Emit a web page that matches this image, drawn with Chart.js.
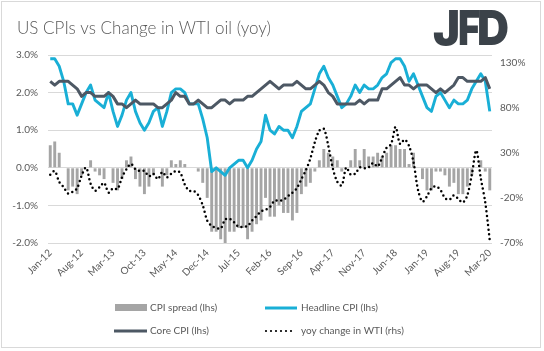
<!DOCTYPE html>
<html><head><meta charset="utf-8">
<script src="https://cdn.jsdelivr.net/npm/chart.js@4/dist/chart.umd.min.js"></script>
<style>html,body{margin:0;padding:0;background:#fff;}#wrap{position:relative;width:544px;height:351px;}canvas{display:block;}</style>
</head><body><div id="wrap"><canvas id="c" width="544" height="351"></canvas></div>
<script>
const categories = [
'Jan-12','Feb-12','Mar-12','Apr-12','May-12','Jun-12','Jul-12','Aug-12','Sep-12','Oct-12','Nov-12','Dec-12',
'Jan-13','Feb-13','Mar-13','Apr-13','May-13','Jun-13','Jul-13','Aug-13','Sep-13','Oct-13','Nov-13','Dec-13',
'Jan-14','Feb-14','Mar-14','Apr-14','May-14','Jun-14','Jul-14','Aug-14','Sep-14','Oct-14','Nov-14','Dec-14',
'Jan-15','Feb-15','Mar-15','Apr-15','May-15','Jun-15','Jul-15','Aug-15','Sep-15','Oct-15','Nov-15','Dec-15',
'Jan-16','Feb-16','Mar-16','Apr-16','May-16','Jun-16','Jul-16','Aug-16','Sep-16','Oct-16','Nov-16','Dec-16',
'Jan-17','Feb-17','Mar-17','Apr-17','May-17','Jun-17','Jul-17','Aug-17','Sep-17','Oct-17','Nov-17','Dec-17',
'Jan-18','Feb-18','Mar-18','Apr-18','May-18','Jun-18','Jul-18','Aug-18','Sep-18','Oct-18','Nov-18','Dec-18',
'Jan-19','Feb-19','Mar-19','Apr-19','May-19','Jun-19','Jul-19','Aug-19','Sep-19','Oct-19','Nov-19','Dec-19',
'Jan-20','Feb-20','Mar-20'];
const shownTicks = ['Jan-12','Aug-12','Mar-13','Oct-13','May-14','Dec-14','Jul-15','Feb-16','Sep-16','Apr-17','Nov-17','Jun-18','Jan-19','Aug-19','Mar-20'];
const cpiSpread = [
0.6,0.7,0.4,0.0,-0.6,-0.5,-0.7,-0.2,0.0,0.2,-0.1,-0.2,
-0.3,0.0,-0.4,-0.6,-0.3,0.2,0.3,-0.3,-0.5,-0.7,-0.5,-0.2,
0.0,-0.5,-0.2,0.2,0.1,0.2,0.1,0.0,0.0,-0.1,-0.4,-0.8,
-1.7,-1.7,-1.9,-2.0,-1.7,-1.7,-1.6,-1.6,-1.9,-1.7,-1.5,-1.4,
-0.8,-1.3,-1.3,-1.0,-1.2,-1.2,-1.4,-1.2,-0.7,-0.5,-0.4,-0.1,
0.2,0.5,0.4,0.3,0.2,-0.1,0.0,0.2,0.5,0.2,0.5,0.3,
0.3,0.4,0.3,0.4,0.6,0.6,0.5,0.5,0.1,0.4,0.0,-0.3,
-0.6,-0.6,-0.1,-0.1,-0.2,-0.5,-0.4,-0.7,-0.7,-0.5,-0.2,0.0,
0.2,-0.1,-0.6];
const headlineCPI = [
2.9,2.9,2.7,2.3,1.7,1.7,1.4,1.7,2.0,2.2,1.8,1.7,
1.6,2.0,1.5,1.1,1.4,1.8,2.0,1.5,1.2,1.0,1.2,1.5,
1.6,1.1,1.5,2.0,2.1,2.1,2.0,1.7,1.7,1.7,1.3,0.8,
-0.1,0.0,-0.1,-0.2,0.0,0.1,0.2,0.2,0.0,0.2,0.5,0.7,
1.4,1.0,0.9,1.1,1.0,1.0,0.8,1.1,1.5,1.6,1.7,2.1,
2.5,2.7,2.4,2.2,1.9,1.6,1.7,1.9,2.2,2.0,2.2,2.1,
2.1,2.2,2.4,2.5,2.8,2.9,2.9,2.7,2.3,2.5,2.2,1.9,
1.6,1.5,1.9,2.0,1.8,1.6,1.8,1.7,1.7,1.8,2.1,2.3,
2.5,2.3,1.5];
const coreCPI = [
2.3,2.2,2.3,2.3,2.3,2.2,2.1,1.9,2.0,2.0,1.9,1.9,
1.9,2.0,1.9,1.7,1.7,1.6,1.7,1.8,1.7,1.7,1.7,1.7,
1.6,1.6,1.7,1.8,2.0,1.9,1.9,1.7,1.7,1.8,1.7,1.6,
1.6,1.7,1.8,1.8,1.7,1.8,1.8,1.8,1.9,1.9,2.0,2.1,
2.2,2.3,2.2,2.1,2.2,2.2,2.2,2.3,2.2,2.1,2.1,2.2,
2.3,2.2,2.0,1.9,1.7,1.7,1.7,1.7,1.7,1.8,1.7,1.8,
1.8,1.8,2.1,2.1,2.2,2.3,2.4,2.2,2.2,2.1,2.2,2.2,
2.2,2.1,2.0,2.1,2.0,2.1,2.2,2.4,2.4,2.3,2.3,2.3,
2.3,2.4,2.1];
const wtiYoy = [
6,10,-2,-8,-15,-13,-9,5,14,-4,-12,-8,
-3,-14,-9,-10,3,12,18,12,10,10,4,7,
1,9,3,7,10,8,-5,-12,-12,-17,-28,-45,
-51,-53,-54,-44,-43,-47,-52,-52,-51,-45,-40,-35,
-33,-30,-23,-23,-22,-18,-14,-9,1,11,24,42,
55,57,38,13,-2,-6,14,6,7,14,13,14,
19,15,25,36,40,59,40,45,38,20,-11,-24,
-18,-9,-7,-11,-20,-22,-17,-21,-25,-17,6,33,
2,-25,-67];
const rightTicks = [-70,-20,30,80,130];
const seriesNames = ['CPI spread (lhs)','Headline CPI (lhs)','Core CPI (lhs)','yoy change in WTI (rhs)'];

const TXT = '#595959';
const COL_BAR = '#A5A5A5', COL_HEAD = '#19AFD6', COL_CORE = '#4D5864', COL_WTI = '#000000';
const FONT = 'Lato, "Open Sans", sans-serif';

const decor = {
  id: 'decor',
  afterDraw(chart) {
    const ctx = chart.ctx;
    ctx.save();
    // frame
    ctx.strokeStyle = '#D9D9D9'; ctx.lineWidth = 1;
    ctx.strokeRect(1.5, 1.5, 539, 346);
    // title
    ctx.fillStyle = TXT; ctx.font = '300 17px ' + FONT; ctx.textBaseline = 'alphabetic'; ctx.textAlign = 'left';
    ctx.fillText('US CPIs vs Change in WTI oil (yoy)', 17, 34, 273);
    // logo
    ctx.fillStyle = '#3B4249'; ctx.font = '900 48px Inter, "DejaVu Sans", sans-serif';
    ctx.fillText('J', 433, 45, 27);
    ctx.fillText('F', 458, 45, 22);
    ctx.fillText('D', 477, 45, 32);
    // legend
    const ds = chart.data.datasets;
    ctx.font = '10px ' + FONT; ctx.textBaseline = 'middle'; ctx.fillStyle = TXT;
    const r1 = 308, r2 = 331;
    ctx.fillStyle = COL_BAR; ctx.fillRect(115, 304, 32, 7);
    ctx.fillStyle = TXT; ctx.fillText(ds[0].label, 150, r1);
    ctx.lineCap = 'butt';
    ctx.strokeStyle = COL_HEAD; ctx.lineWidth = 3; ctx.beginPath(); ctx.moveTo(265, r1); ctx.lineTo(297, r1); ctx.stroke();
    ctx.fillText(ds[1].label, 301, r1);
    ctx.strokeStyle = COL_CORE; ctx.beginPath(); ctx.moveTo(114, r2); ctx.lineTo(147, r2); ctx.stroke();
    ctx.fillText(ds[2].label, 150, r2);
    ctx.strokeStyle = COL_WTI; ctx.lineWidth = 2.2; ctx.lineCap = 'round'; ctx.setLineDash([0, 5]);
    ctx.beginPath(); ctx.moveTo(266, r2); ctx.lineTo(295, r2); ctx.stroke();
    ctx.setLineDash([]);
    ctx.fillText(ds[3].label, 301, r2);
    ctx.restore();
  }
};

new Chart(document.getElementById('c'), {
  type: 'bar',
  data: {
    labels: categories,
    datasets: [
      { type: 'bar', label: seriesNames[0], data: cpiSpread, yAxisID: 'y', backgroundColor: COL_BAR,
        barPercentage: 0.65, categoryPercentage: 1.0, order: 4 },
      { type: 'line', label: seriesNames[1], data: headlineCPI, yAxisID: 'y', borderColor: COL_HEAD,
        borderWidth: 2.9, pointRadius: 0, tension: 0, order: 3, borderJoinStyle: 'round' },
      { type: 'line', label: seriesNames[2], data: coreCPI, yAxisID: 'y', borderColor: COL_CORE,
        borderWidth: 3, pointRadius: 0, tension: 0, order: 2, borderJoinStyle: 'round' },
      { type: 'line', label: seriesNames[3], data: wtiYoy, yAxisID: 'y1', borderColor: COL_WTI,
        borderWidth: 2.5, borderDash: [0, 4.6], borderCapStyle: 'round', pointRadius: 0, tension: 0.3, order: 1 }
    ]
  },
  options: {
    responsive: false, animation: false, devicePixelRatio: 1,
    layout: { padding: { top: 55, bottom: 58, left: 8, right: 0 } },
    plugins: { legend: { display: false }, title: { display: false }, tooltip: { enabled: false } },
    scales: {
      x: {
        offset: true,
        grid: { display: false, drawTicks: false }, border: { display: false },
        ticks: { autoSkip: false, maxRotation: 45, minRotation: 45, color: TXT, font: { family: FONT, size: 10 }, padding: 4,
          callback: function(v, i) { const l = categories[i]; return shownTicks.includes(l) ? l : null; } },
        afterFit(s) { s.height = 50; }
      },
      y: {
        position: 'left', min: -2, max: 3,
        grid: { color: '#D9D9D9', lineWidth: 1, drawTicks: false }, border: { display: false },
        ticks: { stepSize: 1, color: TXT, font: { family: FONT, size: 10 }, padding: 10,
          callback: v => v.toFixed(1) + '%' },
        afterFit(s) { s.width = 40; }
      },
      y1: {
        position: 'right', min: -70, max: 139,
        grid: { display: false, drawTicks: false }, border: { display: false },
        ticks: { color: TXT, font: { family: FONT, size: 10 }, padding: 8, callback: v => v + '%' },
        afterBuildTicks(s) { s.ticks = rightTicks.map(v => ({ value: v })); },
        afterFit(s) { s.width = 52; }
      }
    }
  },
  plugins: [decor]
});
</script>
</body></html>
